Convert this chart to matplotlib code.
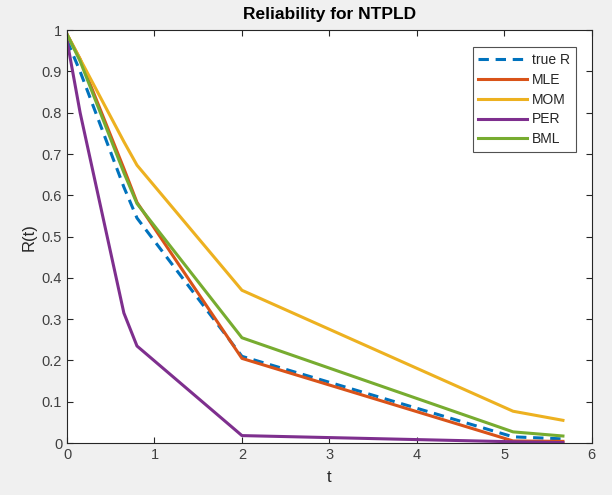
import matplotlib
matplotlib.use("Agg")
import matplotlib.pyplot as plt

plt.rcParams["font.family"] = ["Liberation Sans", "DejaVu Sans"]

# sample times where the curves are evaluated
t = [0.0, 0.15, 0.65, 0.8, 2.0, 5.1, 5.67]

true_R = [0.975, 0.90, 0.62, 0.545, 0.21, 0.015, 0.010]
mle = [0.99, 0.93, 0.665, 0.583, 0.205, 0.005, 0.004]
mom = [0.99, 0.93, 0.73, 0.673, 0.37, 0.077, 0.055]
per = [0.975, 0.80, 0.315, 0.235, 0.018, 0.003, 0.001]
bml = [0.99, 0.925, 0.655, 0.58, 0.255, 0.027, 0.017]

series = [
    ("true R", true_R, "#0072BD", "--"),
    ("MLE", mle, "#D95319", "-"),
    ("MOM", mom, "#EDB120", "-"),
    ("PER", per, "#7E2F8E", "-"),
    ("BML", bml, "#77AC30", "-"),
]

fig = plt.figure(figsize=(6.12, 4.95), dpi=100, facecolor="#f0f0f0")
ax = fig.add_axes([0.1095, 0.105, 0.8575, 0.834])

for name, vals, color, ls in series:
    line, = ax.plot(t, vals, ls, color=color, lw=2.2, label=name)
    if ls == "--":
        line.set_dashes((3.4, 2.2))

ax.set_xlim(0, 6)
ax.set_ylim(0, 1)
ax.set_xticks(range(0, 7))
ax.set_yticks([i / 10 for i in range(11)])
ax.set_yticklabels(["0", "0.1", "0.2", "0.3", "0.4", "0.5", "0.6", "0.7", "0.8", "0.9", "1"])
ax.tick_params(direction="in", top=True, right=True, length=4, width=0.8,
               colors="#262626", labelcolor="#404040", labelsize=10.5)
for sp in ax.spines.values():
    sp.set_color("#262626")
    sp.set_linewidth(0.8)

ax.set_title("Reliability for NTPLD", fontsize=12.5, fontweight="bold", pad=8)
ax.set_xlabel("t", fontsize=12, color="#262626", labelpad=6)
ax.set_ylabel("R(t)", fontsize=12, color="#262626", labelpad=4)

leg = ax.legend(loc="upper right", bbox_to_anchor=(0.975, 0.965), fontsize=10,
                frameon=True, fancybox=False, handlelength=3.5, borderpad=0.4,
                labelspacing=0.42, handletextpad=0.4, borderaxespad=0.2)
leg.get_frame().set_edgecolor("#262626")
leg.get_frame().set_linewidth(0.8)
for txt in leg.get_texts():
    txt.set_color("#262626")

fig.savefig("out.png", dpi=100, facecolor=fig.get_facecolor())
